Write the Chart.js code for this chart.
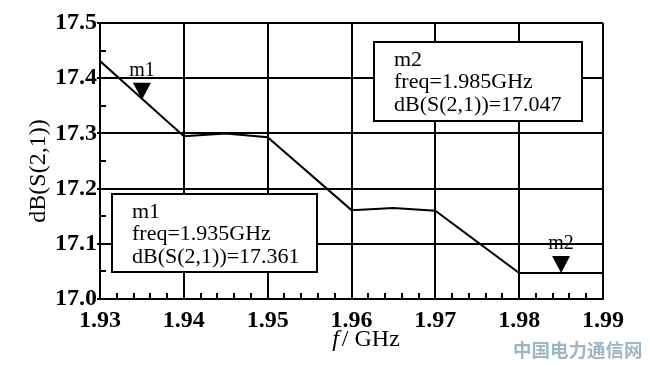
<!DOCTYPE html>
<html>
<head>
<meta charset="utf-8">
<script src="https://cdn.jsdelivr.net/npm/chart.js@4.4.1/dist/chart.umd.min.js"></script>
<style>
  html, body { margin: 0; padding: 0; background: #fff; }
  #wrap { position: relative; width: 650px; height: 366px; }
</style>
</head>
<body>
<div id="wrap"><canvas id="chart" width="650" height="366"></canvas></div>
<script>
// frequency (GHz) and dB(S(2,1))
const freq = [1.93, 1.94, 1.945, 1.95, 1.96, 1.965, 1.97, 1.98, 1.99];
const s21 = [17.431, 17.295, 17.300, 17.293, 17.161, 17.165, 17.160, 17.047, 17.047];

// markers
const markerNames = ['m1', 'm2'];
const markerFreq = [1.935, 1.985];
const markerValue = [17.361, 17.047];

const xTicks = [1.93, 1.94, 1.95, 1.96, 1.97, 1.98, 1.99];
const yTicks = [17.0, 17.1, 17.2, 17.3, 17.4, 17.5];

const serif = '"Liberation Serif", "Times New Roman", serif';

// marker readout boxes, triangles, minor ticks, axis titles
const overlay = {
    id: 'overlay',
    afterDraw(chart) {
        const ctx = chart.ctx;
        const xs = chart.scales.x, ys = chart.scales.y;
        const area = chart.chartArea;
        ctx.save();

        // minor ticks
        ctx.strokeStyle = '#000';
        ctx.lineWidth = 2;
        ctx.beginPath();
        for (let i = 0; i <= 30; i++) {
            if (i % 5 === 0) continue;
            const px = Math.round(xs.getPixelForValue(1.93 + i * 0.002));
            ctx.moveTo(px, area.bottom);
            ctx.lineTo(px, area.bottom - 6);
        }
        for (let i = 0; i < 5; i++) {
            const py = Math.round(ys.getPixelForValue(17.05 + i * 0.1));
            ctx.moveTo(area.left, py);
            ctx.lineTo(area.left + 6, py);
        }
        ctx.stroke();

        // marker triangles and labels
        ctx.fillStyle = '#000';
        ctx.textAlign = 'center';
        ctx.textBaseline = 'alphabetic';
        ctx.font = '20px ' + serif;
        markerNames.forEach((name, i) => {
            const px = xs.getPixelForValue(markerFreq[i]);
            const py = ys.getPixelForValue(markerValue[i]);
            ctx.beginPath();
            ctx.moveTo(px, py);
            ctx.lineTo(px - 9, py - 17);
            ctx.lineTo(px + 9, py - 17);
            ctx.closePath();
            ctx.fill();
            ctx.fillText(name, px, py - 24);
        });

        // readout boxes
        const boxes = [
            { x: 112, y: 194, w: 205, h: 78, i: 0 },
            { x: 374, y: 42, w: 208, h: 79, i: 1 }
        ];
        ctx.textAlign = 'left';
        ctx.font = '22px ' + serif;
        boxes.forEach(b => {
            ctx.fillStyle = '#fff';
            ctx.fillRect(b.x, b.y, b.w, b.h);
            ctx.strokeStyle = '#000';
            ctx.lineWidth = 2;
            ctx.strokeRect(b.x, b.y, b.w, b.h);
            ctx.fillStyle = '#000';
            const tx = b.x + 20;
            ctx.fillText(markerNames[b.i], tx, b.y + 24);
            ctx.fillText('freq=' + markerFreq[b.i].toFixed(3) + 'GHz', tx, b.y + 46);
            ctx.fillText('dB(S(2,1))=' + markerValue[b.i].toFixed(3), tx, b.y + 69);
        });

        // x axis title with italic f
        ctx.font = 'italic 24px ' + serif;
        const fw = ctx.measureText('f').width;
        ctx.font = '24px ' + serif;
        const rest = '/ GHz';
        const rw = ctx.measureText(rest).width;
        const start = 366 - (fw + rw + 3) / 2;
        ctx.font = 'italic 24px ' + serif;
        ctx.fillText('f', start, 346);
        ctx.font = '24px ' + serif;
        ctx.fillText(rest, start + fw + 3, 346);

        // y axis title
        ctx.save();
        ctx.translate(39, 171);
        ctx.rotate(-Math.PI / 2);
        ctx.textAlign = 'center';
        ctx.textBaseline = 'middle';
        ctx.font = '24px ' + serif;
        ctx.fillText('dB(S(2,1))', 0, 0);
        ctx.restore();

        // watermark
        ctx.fillStyle = '#9bb6c7';
        ctx.font = 'bold 18.5px "Noto Sans CJK SC", sans-serif';
        ctx.textAlign = 'left';
        ctx.fillText('中国电力通信网', 513, 357);
        ctx.restore();
    }
};

new Chart(document.getElementById('chart'), {
    type: 'line',
    data: {
        datasets: [{
            data: freq.map((f, i) => ({ x: f, y: s21[i] })),
            borderColor: '#000',
            borderWidth: 2,
            pointRadius: 0,
            tension: 0,
            fill: false
        }]
    },
    options: {
        responsive: false,
        animation: false,
        layout: { padding: { left: 0, right: 47, top: 23, bottom: 0 } },
        plugins: { legend: { display: false }, tooltip: { enabled: false } },
        scales: {
            x: {
                type: 'linear',
                min: 1.93,
                max: 1.99,
                afterBuildTicks: s => { s.ticks = xTicks.map(v => ({ value: v })); },
                afterFit: s => { s.height = 67; },
                grid: { color: '#000', lineWidth: 2, drawTicks: false },
                border: { color: '#000', width: 2 },
                ticks: {
                    color: '#000',
                    padding: 7,
                    maxRotation: 0,
                    font: { family: serif, size: 24, weight: 'bold' },
                    callback: v => v.toFixed(2)
                }
            },
            y: {
                min: 17.0,
                max: 17.5,
                afterBuildTicks: s => { s.ticks = yTicks.map(v => ({ value: v })); },
                afterFit: s => { s.width = 100; },
                grid: { color: '#000', lineWidth: 2, drawTicks: true, tickLength: 3 },
                border: { color: '#000', width: 2 },
                ticks: {
                    color: '#000',
                    padding: 0,
                    font: { family: serif, size: 24, weight: 'bold' },
                    callback: v => v.toFixed(1)
                }
            }
        }
    },
    plugins: [overlay]
});
</script>
</body>
</html>
